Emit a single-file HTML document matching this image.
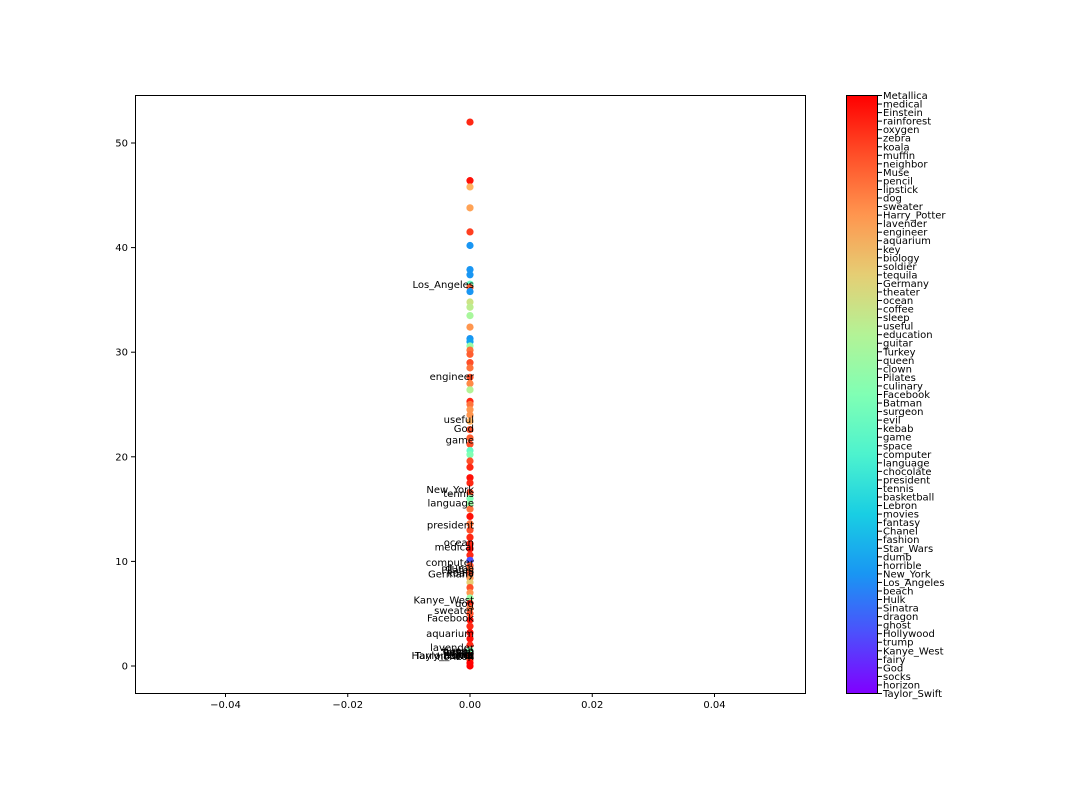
<!DOCTYPE html>
<html><head><meta charset="utf-8"><style>
body{margin:0;background:#fff}
svg text{font-family:"DejaVu Sans","Liberation Sans",sans-serif;font-size:10px;fill:#000}
</style></head><body>
<svg id="chart" width="1080" height="792" viewBox="0 0 1080 792" xmlns="http://www.w3.org/2000/svg">
<defs><linearGradient id="rb" x1="0" y1="1" x2="0" y2="0"></linearGradient></defs>
<g id="marks"></g>
<rect x="135.5" y="95.5" width="670" height="598" fill="none" stroke="#000" stroke-width="1"/>
<g id="axes"></g>
<rect x="846.5" y="95.5" width="31" height="598" fill="url(#rb)" stroke="#000" stroke-width="1"/>
<g id="cbar"></g>
</svg>
<script>
const yVals=[52.0,46.4,45.8,43.8,41.5,40.2,37.9,37.4,36.5,36.2,35.8,34.8,34.3,33.5,32.4,31.3,31.0,30.6,30.2,29.8,29.0,28.5,27.6,27.0,26.4,25.3,25.0,24.5,24.0,23.4,22.6,21.8,21.2,20.6,20.2,19.6,19.0,18.0,17.5,16.6,16.0,15.5,15.0,14.3,13.6,13.0,12.3,11.7,11.2,10.6,10.1,9.6,9.2,8.8,8.4,8.0,7.5,7.0,6.5,6.0,5.5,5.0,4.4,3.8,3.2,2.6,2.0,1.5,1.0,0.6,0.3,0.0];
const cVals=[0.95,0.98,0.75,0.78,0.92,0.2,0.2,0.2,0.45,0.88,0.2,0.65,0.62,0.58,0.8,0.2,0.22,0.55,0.85,0.88,0.9,0.85,0.9,0.82,0.6,0.95,0.85,0.8,0.8,0.75,0.9,0.88,0.9,0.45,0.5,0.9,0.95,0.98,0.95,0.9,0.5,0.55,0.85,0.98,0.85,0.9,0.95,0.95,0.98,0.95,0.1,0.9,0.85,0.9,0.8,0.7,0.9,0.8,0.55,0.95,0.85,0.9,0.98,0.95,0.98,0.98,0.95,0.5,0.95,0.9,1.0,1.0];
const annText=["Los_Angeles","engineer","useful","God","game","New_York","tennis","language","president","ocean","medical","computer","dumb","Pilates","koala","Germany","Kanye_West","dog","sweater","Facebook","aquarium","lavender","queen","Turkey","Harry_Potter","Taylor_Swift","socks","horizon","fairy","trump","beach","Hulk"];
const annVals=[36.2,27.4,23.3,22.4,21.3,16.6,16.2,15.3,13.2,11.5,11.1,9.6,9.1,8.9,8.6,8.5,6.0,5.7,5.0,4.3,2.8,1.5,1.2,1.0,0.7,0.7,0.8,0.6,0.9,0.7,1.1,0.8];
const annX=[0,0,0,0,0,0,0,0,0,0,0,0,0,0,0,0,0,0,0,0,0,0,0,0,0,0,0,0,0,0,0,0];
const xTicks=[-0.04,-0.02,0.00,0.02,0.04];
const xTickLabels=["−0.04","−0.02","0.00","0.02","0.04"];
const yTicks=[0,10,20,30,40,50];
const cbarLabels=["Metallica","medical","Einstein","rainforest","oxygen","zebra","koala","muffin","neighbor","Muse","pencil","lipstick","dog","sweater","Harry_Potter","lavender","engineer","aquarium","key","biology","soldier","tequila","Germany","theater","ocean","coffee","sleep","useful","education","guitar","Turkey","queen","clown","Pilates","culinary","Facebook","Batman","surgeon","evil","kebab","game","space","computer","language","chocolate","president","tennis","basketball","Lebron","movies","fantasy","Chanel","fashion","Star_Wars","dumb","horrible","New_York","Los_Angeles","beach","Hulk","Sinatra","dragon","ghost","Hollywood","trump","Kanye_West","fairy","God","socks","horizon","Taylor_Swift"];
const NS="http://www.w3.org/2000/svg";
const X=v=>470+v*(244.5/0.04);
const Y=v=>666-v*(523/50);
function rainbow(t){const r=Math.min(1,Math.abs(2*t-0.5)),g=Math.sin(Math.PI*t),b=Math.cos(Math.PI*t/2);
return `rgb(${Math.round(r*255)},${Math.round(g*255)},${Math.round(b*255)})`;}
function mk(tag,at,parent){const e=document.createElementNS(NS,tag);for(const k in at)e.setAttribute(k,at[k]);parent.appendChild(e);return e;}
const grad=document.getElementById('rb');
for(let i=0;i<=10;i++)mk('stop',{offset:(i*10)+'%','stop-color':rainbow(i/10)},grad);
const marks=document.getElementById('marks');
yVals.forEach((v,i)=>{const c=mk('circle',{cx:X(0),cy:Y(v),r:3.6,fill:rainbow(cVals[i])},marks);

});
annText.forEach((t,i)=>{const e=mk('text',{x:X(annX[i])+4,y:Y(annVals[i])+0.5,'text-anchor':'end'},marks);e.textContent=t;

});
const axes=document.getElementById('axes');
xTicks.forEach((v,i)=>{mk('line',{x1:X(v),x2:X(v),y1:693,y2:697,stroke:'#000'},axes);
const t=mk('text',{x:X(v),y:708,'text-anchor':'middle'},axes);t.textContent=xTickLabels[i];

});
yTicks.forEach(v=>{mk('line',{x1:131,x2:135,y1:Y(v),y2:Y(v),stroke:'#000'},axes);
const t=mk('text',{x:128,y:Y(v)+3.5,'text-anchor':'end'},axes);t.textContent=v;

});
const cb=document.getElementById('cbar');
const n=cbarLabels.length;
cbarLabels.forEach((s,i)=>{const y=95.5+i*598/(n-1);
mk('line',{x1:878,x2:882,y1:y,y2:y,stroke:'#000'},cb);
const t=mk('text',{x:883,y:y+3.5},cb);t.textContent=s;

});
</script>
</body></html>
